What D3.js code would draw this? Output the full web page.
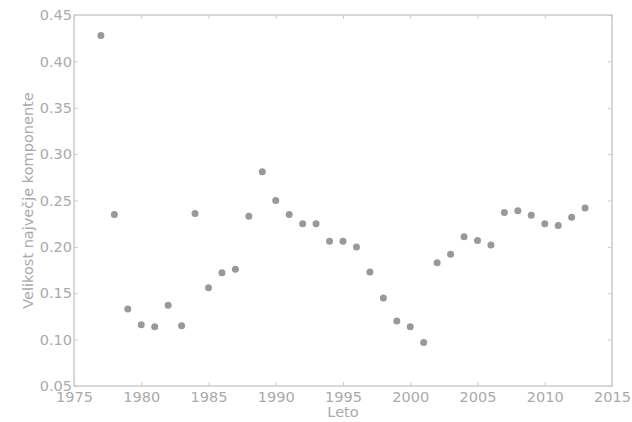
<!DOCTYPE html>
<html><head><meta charset="utf-8">
<script src="https://cdn.jsdelivr.net/npm/d3@7"></script>
<style>body{margin:0;background:#fff}svg{display:block}text{font-family:"DejaVu Sans",sans-serif}</style>
</head><body><svg id="c" width="632" height="422"></svg>
<script>
const years = [1977,1978,1979,1980,1981,1982,1983,1984,1985,1986,1987,1988,1989,1990,1991,1992,1993,1994,1995,1996,1997,1998,1999,2000,2001,2002,2003,2004,2005,2006,2007,2008,2009,2010,2011,2012,2013];
const values = [0.428,0.235,0.133,0.116,0.114,0.137,0.115,0.236,0.156,0.172,0.176,0.233,0.281,0.250,0.235,0.225,0.225,0.206,0.206,0.200,0.173,0.145,0.120,0.114,0.097,0.183,0.192,0.211,0.207,0.202,0.237,0.239,0.234,0.225,0.223,0.232,0.242];
const xTicks = [1975,1980,1985,1990,1995,2000,2005,2010,2015];
const yTicks = [0.05,0.10,0.15,0.20,0.25,0.30,0.35,0.40,0.45];
const xLabel = "Leto";
const yLabel = "Velikost največje komponente";

const L=74,R=612,T=15,B=386;
const svg=d3.select("#c");
const x=d3.scaleLinear().domain([1975,2015]).range([L,R]);
const y=d3.scaleLinear().domain([0.05,0.45]).range([B,T]);
const tc="#aaa", lc="#ccc";

// frame
svg.append("rect").attr("x",L).attr("y",T).attr("width",R-L).attr("height",B-T)
  .attr("fill","none").attr("stroke",lc).attr("stroke-width",1.5);

const styleAxis=g=>{g.select(".domain").remove();g.selectAll("line").attr("stroke",lc);g.selectAll("text").attr("fill",tc).style("font-size","14.5px").style("font-family","DejaVu Sans");};
svg.append("g").attr("transform",`translate(0,${B})`)
  .call(d3.axisBottom(x).tickValues(xTicks).tickFormat(d3.format("d")).tickSizeInner(-4).tickPadding(6))
  .call(styleAxis);
svg.append("g").attr("transform",`translate(0,${T})`)
  .call(d3.axisTop(x).tickValues(xTicks).tickFormat("").tickSizeInner(-4))
  .call(styleAxis);
svg.append("g").attr("transform",`translate(${L},0)`)
  .call(d3.axisLeft(y).tickValues(yTicks).tickFormat(d3.format(".2f")).tickSizeInner(-4).tickPadding(2))
  .call(styleAxis);
svg.append("g").attr("transform",`translate(${R},0)`)
  .call(d3.axisRight(y).tickValues(yTicks).tickFormat("").tickSizeInner(-4))
  .call(styleAxis);

svg.append("text").attr("x",(L+R)/2).attr("y",417).attr("text-anchor","middle")
  .attr("fill",tc).style("font-size","14.5px").text(xLabel);
svg.append("text").attr("transform",`translate(33,${(T+B)/2}) rotate(-90)`).attr("text-anchor","middle")
  .attr("fill",tc).style("font-size","14.5px").text(yLabel);

svg.append("g").selectAll("circle").data(years).join("circle")
  .attr("cx",(d)=>x(d)).attr("cy",(d,i)=>y(values[i])).attr("r",3.5).attr("fill","#999");
</script></body></html>
